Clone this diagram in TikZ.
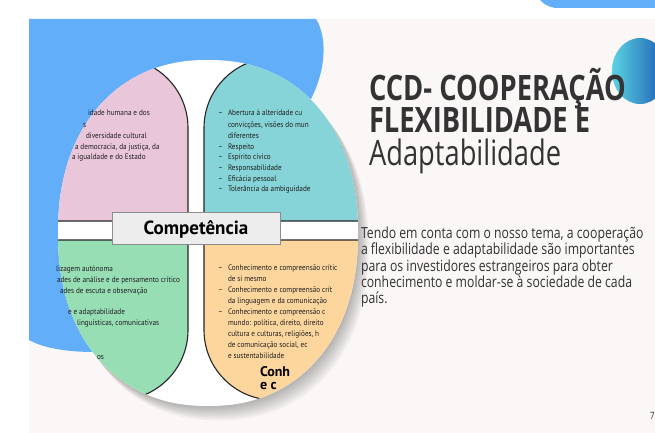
\documentclass[tikz,border=0pt]{standalone}
\usepackage{fontspec}
\setmainfont{Open Sans}
\newfontfamily\qf[FakeStretch=0.9]{PT Sans}
\newfontfamily\cf{PT Sans}
\newfontfamily\tf[FakeStretch=0.78]{Open Sans}
\newfontfamily\pf[FakeStretch=0.8]{Open Sans}
\definecolor{slidebg}{HTML}{FAF7F6}
\definecolor{blobblue}{HTML}{62AEF8}
\definecolor{qpink}{HTML}{EAC6DA}
\definecolor{qteal}{HTML}{86D4D8}
\definecolor{qgreen}{HTML}{97DEB5}
\definecolor{qorange}{HTML}{FDD69E}
\definecolor{titlegray}{HTML}{333333}
\definecolor{gcl}{HTML}{5AD3E2}
\definecolor{gcr}{HTML}{1B58B0}
\newcommand\circshape{plot[domain=0:359, samples=180] ({208+150*sign(cos(\x))*exp(0.91*ln(abs(cos(\x))+0.0001))}, {233+173*sign(sin(\x))*exp(0.91*ln(abs(sin(\x))+0.0001))}) -- cycle}
\begin{document}
\begin{tikzpicture}[x=1pt,y=-1pt,
  every node/.style={inner sep=0pt,outer sep=0pt},
  qt/.style={anchor=base west,font=\qf\fontsize{8}{10}\selectfont,text=black!88},
  qline/.style={draw=black!85,line width=1.1pt},
  titletext/.style={anchor=base west,text=titlegray,font=\tf\bfseries\fontsize{35}{35}\selectfont},
  titlereg/.style={anchor=base west,text=titlegray,font=\tf\fontsize{35}{35}\selectfont},
  paratext/.style={anchor=base west,text=titlegray,font=\pf\fontsize{15.3}{16}\selectfont}]
\useasboundingbox (0,0) rectangle (655,433);
\fill[white] (0,0) rectangle (655,433);
\fill[slidebg] (29,19) rectangle (655,433);
\fill[blobblue] (540,0) -- (655,0) -- (655,8) -- (558,8) .. controls (549,8) and (544,4) .. (540,0) -- cycle;
% blue blob
\fill[blobblue] (29,19) -- (316,19) .. controls (332,45) and (322,95) .. (292,125) -- (200,250) -- (95,352) .. controls (62,352) and (42,347) .. (29,340) -- cycle;
% soft shadow of the circle picture
\foreach \k in {1,...,9} {
  \fill[black, opacity=0.03, shift={(1.2*\k,1.6*\k)}] \circshape;
}
\fill[white] \circshape;
\begin{scope}
\clip \circshape;
\path[fill=qpink, qline] (-10,58) -- (118,58) .. controls (156.7,58) and (188,89.3) .. (188,128) -- (188,221) -- (-10,221) -- cycle;
\path[fill=qteal, qline] (420,58) -- (274,58) .. controls (235.3,58) and (204,89.3) .. (204,128) -- (204,221) -- (420,221) -- cycle;
\path[fill=qgreen, qline] (-10,240) -- (188,240) -- (188,330) .. controls (188,368.7) and (156.7,400) .. (118,400) -- (-10,400) -- cycle;
\path[fill=qorange, qline] (420,240) -- (204,240) -- (204,330) .. controls (204,368.7) and (235.3,400) .. (274,400) -- (420,400) -- cycle;
% teal text
\node[qt] (td1) at (218,116) {–}; \node[qt] (t1) at (228,116) {Abertura à alteridade cu};
\node[qt] (t2) at (228,127) {convicções, visões do mun};
\node[qt] (t3) at (228,138) {diferentes};
\node[qt] (td4) at (218,149) {–}; \node[qt] (t4) at (228,149) {Respeito};
\node[qt] (td5) at (218,159) {–}; \node[qt] (t5) at (228,159) {Espírito cívico};
\node[qt] (td6) at (218,170) {–}; \node[qt] (t6) at (228,170) {Responsabilidade};
\node[qt] (td7) at (218,181) {–}; \node[qt] (t7) at (228,181) {Eficácia pessoal};
\node[qt] (td8) at (218,191) {–}; \node[qt] (t8) at (228,191) {Tolerância da ambiguidade};
% orange text
\node[qt] (od1) at (218,270.5) {–}; \node[qt] (o1) at (228,270.5) {Conhecimento e compreensão crític};
\node[qt] (o2) at (228,281.5) {de si mesmo};
\node[qt] (od3) at (218,292.5) {–}; \node[qt] (o3) at (228,292.5) {Conhecimento e compreensão crít};
\node[qt] (o4) at (228,303.5) {da linguagem e da comunicação};
\node[qt] (od5) at (218,314.5) {–}; \node[qt] (o5) at (228,314.5) {Conhecimento e compreensão c};
\node[qt] (o6) at (228,325.5) {mundo: política, direito, direito};
\node[qt] (o7) at (228,336.5) {cultura e culturas, religiões, h};
\node[qt] (o8) at (228,347.5) {de comunicação social, ec};
\node[qt] (o9) at (228,358.5) {e sustentabilidade};
\node[anchor=base west,font=\cf\bfseries\fontsize{14}{14}\selectfont] (o10) at (260,376) {Conh};
\node[anchor=base west,font=\cf\bfseries\fontsize{14}{14}\selectfont] (o11) at (260,389) {e c};
\end{scope}
% pink text (over blob)
\node[qt] (p1) at (88,116) {idade humana e dos};
\node[qt] (p2) at (83,127) {s};
\node[qt] (p3) at (86,138) {diversidade cultural};
\node[qt] (p4) at (75,149) {a democracia, da justiça, da};
\node[qt] (p5) at (72,159) {a igualdade e do Estado};
% green text
\node[qt] (g1) at (56,271) {lizagem autónoma};
\node[qt] (g2) at (57,282) {ades de análise e de pensamento crítico};
\node[qt] (g3) at (60,293) {ades de escuta e observação};
\node[qt] (g4) at (68,314) {e e adaptabilidade};
\node[qt] (g5) at (77,325) {linguísticas, comunicativas};
\node[qt] (g6) at (97,359) {os};
% Competencia box
\node[draw=black!45, fill=black!7, line width=0.8pt, minimum width=168pt, minimum height=32pt] (compbox) at (196,228) {};
\node[anchor=base, font=\cf\bfseries\fontsize{19}{19}\selectfont] (comptext) at (196,234) {Competência};
% gradient circle
\shade[left color=gcl, right color=gcr] (640,71) ellipse (28 and 33);
% title
\node[titletext] (h1) at (369,100) {CCD- COOPERAÇÃO};
\node[titletext] (h2) at (369,132) {FLEXIBILIDADE E};
\node[titlereg] (h3) at (369,165) {Adaptabilidade};
% paragraph
\node[paratext] (l1) at (361,238) {Tendo em conta com o nosso tema, a cooperação};
\node[paratext] (l2) at (361,254) {a flexibilidade e adaptabilidade são importantes};
\node[paratext] (l3) at (361,271) {para os investidores estrangeiros para obter};
\node[paratext] (l4) at (361,287) {conhecimento e moldar-se à sociedade de cada};
\node[paratext] (l5) at (361,303) {país.};
\node[anchor=base west, text=titlegray, font=\tf\fontsize{10}{10}\selectfont] (pg) at (650,419) {7};
\end{tikzpicture}
\end{document}
